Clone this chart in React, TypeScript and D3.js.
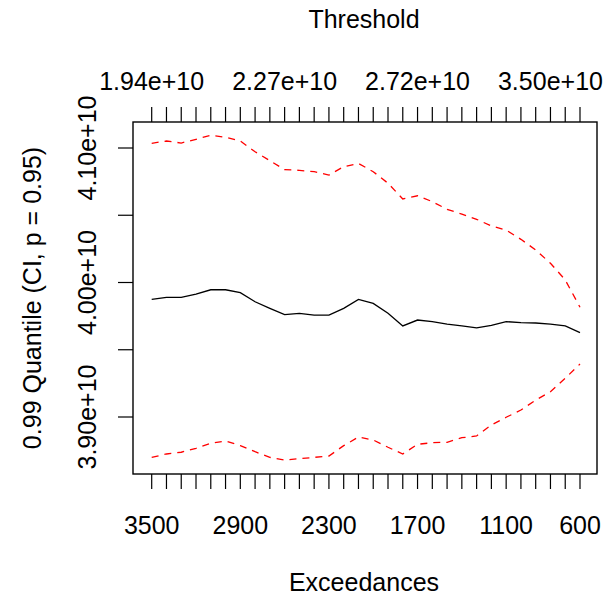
import React from "react";
import * as d3 from "d3";

const exceedances = [3500, 3400, 3300, 3200, 3100, 3000, 2900, 2800, 2700, 2600, 2500, 2400, 2300, 2200, 2100, 2000, 1900, 1800, 1700, 1600, 1500, 1400, 1300, 1200, 1100, 1000, 900, 800, 700, 600];

const upperCI = [4.1035, 4.1052, 4.1037, 4.1065, 4.1094, 4.1080, 4.1052, 4.0972, 4.0906, 4.0839, 4.0834, 4.0824, 4.0799, 4.0861, 4.0885, 4.0824, 4.0738, 4.0621, 4.0645, 4.0601, 4.0544, 4.0509, 4.0470, 4.0420, 4.0390, 4.0321, 4.0242, 4.0143, 4.0019, 3.9816];

const quantileEst = [3.9875, 3.9890, 3.9890, 3.9914, 3.9946, 3.9946, 3.9924, 3.9857, 3.9808, 3.9761, 3.9771, 3.9758, 3.9758, 3.9808, 3.9874, 3.9845, 3.9771, 3.9677, 3.9721, 3.9709, 3.9691, 3.9677, 3.9662, 3.9682, 3.9709, 3.9701, 3.9699, 3.9691, 3.9677, 3.9627];

const lowerCI = [3.8700, 3.8725, 3.8738, 3.8767, 3.8804, 3.8822, 3.8787, 3.8742, 3.8700, 3.8680, 3.8690, 3.8700, 3.8710, 3.8787, 3.8851, 3.8829, 3.8775, 3.8725, 3.8797, 3.8809, 3.8812, 3.8846, 3.8859, 3.8941, 3.8998, 3.9052, 3.9126, 3.9188, 3.9288, 3.9394];

const bottomLabels = [3500, 2900, 2300, 1700, 1100, 600];
const topLabelAt = [3500, 2600, 1700, 800];
const topLabels = ["1.94e+10", "2.27e+10", "2.72e+10", "3.50e+10"];
const yTicks = [3.9, 3.95, 4.0, 4.05, 4.1];
const yLabels = [3.9, 4.0, 4.1];

const W = 605;
const H = 599;
const box = { left: 133, right: 597, top: 122, bottom: 474 };
const FONT = "'Liberation Sans', Arial, sans-serif";
const FS = 25;

export default function App() {
  const x = d3.scaleLinear().domain([3500, 600]).range([151.7, 580]);
  const y = d3.scaleLinear().domain([3.9, 4.1]).range([417, 148]);
  const line = (vals: number[]) =>
    d3
      .line<number>()
      .x((_, i) => x(exceedances[i]))
      .y((v) => y(v))(vals) as string;

  return (
    <svg
      width={W}
      height={H}
      style={{ position: "absolute", left: 0, top: 0, background: "#fff" }}
      fontFamily={FONT}
    >
      <rect x={0} y={0} width={W} height={H} fill="#fff" />
      {/* lines */}
      <path d={line(quantileEst)} fill="none" stroke="#000" strokeWidth={1.3} />
      <path d={line(upperCI)} fill="none" stroke="#ff0000" strokeWidth={1.3} strokeDasharray="7 6" />
      <path d={line(lowerCI)} fill="none" stroke="#ff0000" strokeWidth={1.3} strokeDasharray="7 6" />
      {/* box */}
      <rect
        x={box.left}
        y={box.top}
        width={box.right - box.left}
        height={box.bottom - box.top}
        fill="none"
        stroke="#000"
        strokeWidth={1.4}
      />
      {/* bottom axis */}
      {exceedances.map((e) => (
        <line key={"b" + e} x1={x(e)} x2={x(e)} y1={box.bottom} y2={box.bottom + 15} stroke="#000" strokeWidth={1.2} />
      ))}
      {bottomLabels.map((e) => (
        <text key={"bl" + e} x={x(e)} y={534} fontSize={FS} textAnchor="middle" fill="#000">
          {e}
        </text>
      ))}
      {/* top axis */}
      {exceedances.map((e) => (
        <line key={"t" + e} x1={x(e)} x2={x(e)} y1={box.top} y2={box.top - 15} stroke="#000" strokeWidth={1.2} />
      ))}
      {topLabelAt.map((e, i) => (
        <text key={"tl" + e} x={x(e)} y={90} fontSize={FS} textAnchor="middle" fill="#000">
          {topLabels[i]}
        </text>
      ))}
      {/* left axis */}
      {yTicks.map((v) => (
        <line key={"y" + v} x1={box.left} x2={box.left - 15} y1={y(v)} y2={y(v)} stroke="#000" strokeWidth={1.2} />
      ))}
      {yLabels.map((v) => (
        <text
          key={"yl" + v}
          transform={`translate(96,${y(v)}) rotate(-90)`}
          fontSize={FS}
          textAnchor="middle"
          fill="#000"
        >
          {v.toFixed(2) + "e+10"}
        </text>
      ))}
      {/* titles */}
      <text x={364} y={28} fontSize={FS} textAnchor="middle" fill="#000">
        Threshold
      </text>
      <text x={364} y={591} fontSize={FS} textAnchor="middle" fill="#000">
        Exceedances
      </text>
      <text
        transform={`translate(41,${(box.top + box.bottom) / 2}) rotate(-90)`}
        fontSize={FS}
        textAnchor="middle"
        fill="#000"
      >
        0.99 Quantile (CI, p = 0.95)
      </text>
    </svg>
  );
}
